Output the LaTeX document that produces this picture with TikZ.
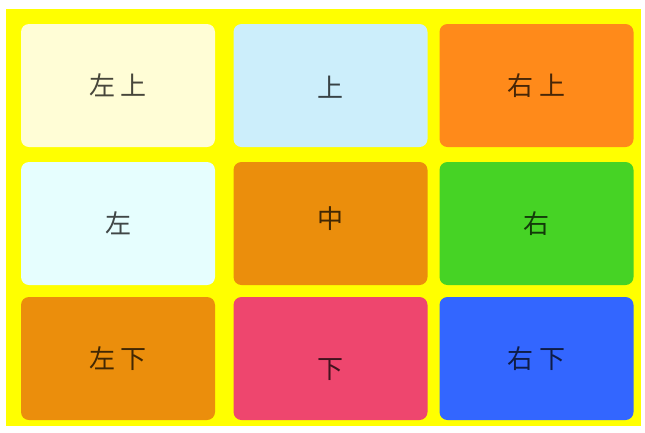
\documentclass[tikz,border=0pt]{standalone}
\usepackage{fontspec}
\newfontfamily\cjk{Noto Sans CJK SC}
\usetikzlibrary{positioning}
\definecolor{padyellow}{RGB}{255,255,0}
\definecolor{tlfill}{RGB}{255,253,214}
\definecolor{tcfill}{RGB}{204,238,251}
\definecolor{trfill}{RGB}{255,138,26}
\definecolor{mlfill}{RGB}{230,254,254}
\definecolor{mcfill}{RGB}{235,142,12}
\definecolor{mrfill}{RGB}{70,211,37}
\definecolor{blfill}{RGB}{235,142,12}
\definecolor{bcfill}{RGB}{238,70,110}
\definecolor{brfill}{RGB}{51,102,255}

\begin{document}
\begin{tikzpicture}[
      x=1pt, y=-1pt,
      cell/.style={rectangle, rounded corners=8pt, minimum width=194pt, minimum height=123pt, inner sep=0pt, draw=none},
      txt/.style={font=\cjk\fontsize{26}{26}\selectfont, text=black, text opacity=0.72}
    ]
      % Background
      \useasboundingbox (0,0) rectangle (645,432);
      \fill[padyellow] (6,9) rectangle (641,426);

      % Top row
      \node[cell, fill=tlfill, label={[txt]center:左 上}] (tl) at (118, 85.5) {};
      \node[cell, fill=tcfill, label={[txt, yshift=-2pt]center:上}] (tc) at (330.5, 85.5) {};
      \node[cell, fill=trfill, label={[txt]center:右 上}] (tr) at (536.5, 85.5) {};

      % Middle row
      \node[cell, fill=mlfill, label={[txt]center:左}] (ml) at (118, 223.5) {};
      \node[cell, fill=mcfill, label={[txt, yshift=5pt]center:中}] (mc) at (330.5, 223.5) {};
      \node[cell, fill=mrfill, label={[txt]center:右}] (mr) at (536.5, 223.5) {};

      % Bottom row
      \node[cell, fill=blfill, label={[txt]center:左 下}] (bl) at (118, 358.5) {};
      \node[cell, fill=bcfill, label={[txt, yshift=-11pt]center:下}] (bc) at (330.5, 358.5) {};
      \node[cell, fill=brfill, label={[txt]center:右 下}] (br) at (536.5, 358.5) {};
    \end{tikzpicture}
\end{document}
